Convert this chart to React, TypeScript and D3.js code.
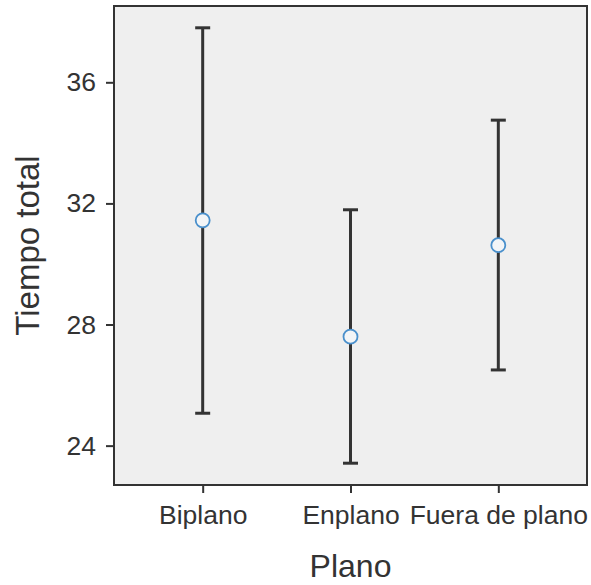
import { useEffect, useRef } from 'react'
import * as d3 from 'd3'

const categories = ['Biplano', 'Enplano', 'Fuera de plano']
const means = [31.44, 27.6, 30.62]
const upper = [37.8, 31.79, 34.75]
const lower = [25.07, 23.42, 26.5]
const yTicks = [24, 28, 32, 36]

export default function App() {
  const svgRef = useRef<SVGSVGElement | null>(null)

  const width = 591
  const height = 585
  const margin = { top: 6, right: 4, bottom: 100, left: 114 }
  const font = '"Liberation Sans", Arial, sans-serif'
  const ink = '#333333'

  useEffect(() => {
    const svg = d3.select(svgRef.current)
    svg.selectAll('*').remove()

    const x = d3.scalePoint<string>()
      .domain(categories)
      .range([margin.left, width - margin.right])
      .padding(0.6)

    const y = d3.scaleLinear()
      .domain([22.7, 38.52])
      .range([height - margin.bottom, margin.top])

    // panel
    svg.append('rect')
      .attr('x', margin.left).attr('y', margin.top)
      .attr('width', width - margin.right - margin.left)
      .attr('height', height - margin.bottom - margin.top)
      .attr('fill', '#efefef')
      .attr('stroke', ink).attr('stroke-width', 2)

    // y axis
    const yAxis = svg.append('g')
      .attr('transform', `translate(${margin.left},0)`)
      .call(d3.axisLeft(y).tickValues(yTicks).tickSize(8).tickPadding(10))
    yAxis.select('.domain').remove()
    yAxis.selectAll('line').attr('stroke', ink).attr('stroke-width', 2)
    yAxis.selectAll('text')
      .attr('fill', ink).attr('font-size', 26.5).attr('font-family', font)

    // x axis
    const xAxis = svg.append('g')
      .attr('transform', `translate(0,${height - margin.bottom})`)
      .call(d3.axisBottom(x).tickSize(8).tickPadding(12))
    xAxis.select('.domain').remove()
    xAxis.selectAll('line').attr('stroke', ink).attr('stroke-width', 2)
    xAxis.selectAll('text')
      .attr('fill', ink).attr('font-size', 26.5).attr('font-family', font)

    // error bars
    const g = svg.append('g')
    const capHalf = 7.5
    categories.forEach((c, i) => {
      const cx = x(c) as number
      g.append('line')
        .attr('x1', cx).attr('x2', cx)
        .attr('y1', y(upper[i])).attr('y2', y(lower[i]))
        .attr('stroke', ink).attr('stroke-width', 3)
      ;[upper[i], lower[i]].forEach(v => {
        g.append('line')
          .attr('x1', cx - capHalf).attr('x2', cx + capHalf)
          .attr('y1', y(v)).attr('y2', y(v))
          .attr('stroke', ink).attr('stroke-width', 3)
      })
      g.append('circle')
        .attr('cx', cx).attr('cy', y(means[i])).attr('r', 7)
        .attr('fill', '#f3f5f7')
        .attr('stroke', '#4a90cc').attr('stroke-width', 1.8)
    })

    // axis titles
    svg.append('text')
      .attr('x', (margin.left + width - margin.right) / 2)
      .attr('y', 577)
      .attr('text-anchor', 'middle')
      .attr('fill', ink).attr('font-size', 32).attr('font-family', font)
      .text('Plano')

    svg.append('text')
      .attr('transform', `translate(39,${(margin.top + height - margin.bottom) / 2}) rotate(-90)`)
      .attr('text-anchor', 'middle')
      .attr('fill', ink).attr('font-size', 33).attr('font-family', font)
      .text('Tiempo total')
  }, [])

  return (
    <div>
      <style>{'body{margin:0;background:#fff}'}</style>
      <svg ref={svgRef} width={width} height={height} style={{ display: 'block' }} />
    </div>
  )
}
